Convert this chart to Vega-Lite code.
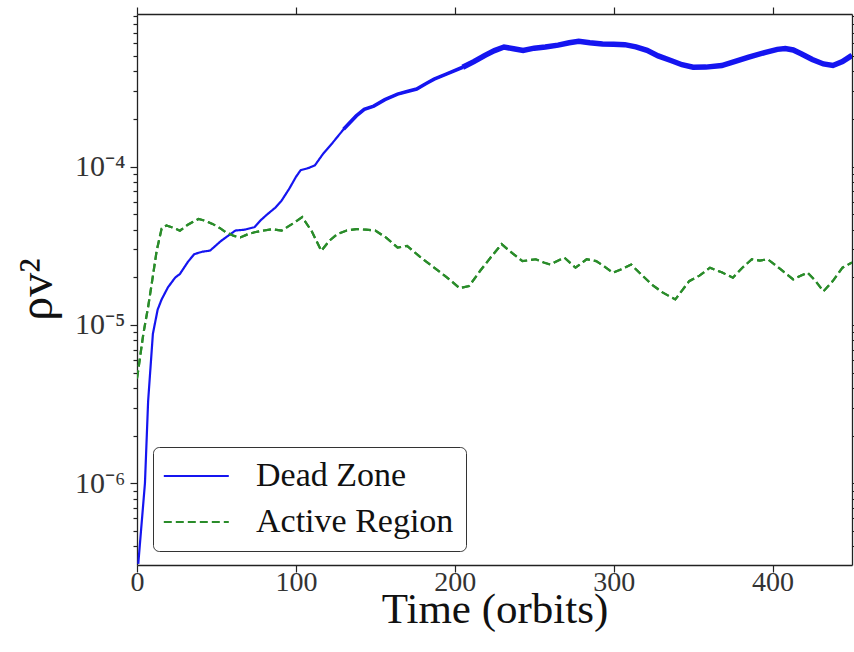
{
  "$schema": "https://vega.github.io/schema/vega-lite/v6.json",
  "width": 715,
  "height": 551,
  "autosize": {"type": "none"},
  "padding": {"left": 137, "top": 14, "right": 2, "bottom": 87},
  "background": "white",
  "config": {
    "view": {"stroke": null},
    "axis": {"grid": false, "domainColor": "#222", "domainWidth": 1.3, "tickColor": "#222", "tickWidth": 1.2, "labelFont": "Liberation Serif", "titleFont": "Liberation Serif", "labelColor": "#333", "titleColor": "#111", "titleFontWeight": "normal"}
  },
  "data": {"values": [
    {"series": "Dead Zone", "t": 0.8, "v": 3.1e-7},
    {"series": "Dead Zone", "t": 5, "v": 1.0e-6},
    {"series": "Dead Zone", "t": 7, "v": 3.3e-6},
    {"series": "Dead Zone", "t": 10, "v": 8.8e-6},
    {"series": "Dead Zone", "t": 13, "v": 1.25e-5},
    {"series": "Dead Zone", "t": 15.5, "v": 1.45e-5},
    {"series": "Dead Zone", "t": 19.5, "v": 1.73e-5},
    {"series": "Dead Zone", "t": 24, "v": 1.99e-5},
    {"series": "Dead Zone", "t": 27, "v": 2.1e-5},
    {"series": "Dead Zone", "t": 32, "v": 2.5e-5},
    {"series": "Dead Zone", "t": 36, "v": 2.8e-5},
    {"series": "Dead Zone", "t": 41, "v": 2.9e-5},
    {"series": "Dead Zone", "t": 46, "v": 2.95e-5},
    {"series": "Dead Zone", "t": 50, "v": 3.2e-5},
    {"series": "Dead Zone", "t": 53, "v": 3.4e-5},
    {"series": "Dead Zone", "t": 58, "v": 3.7e-5},
    {"series": "Dead Zone", "t": 62, "v": 3.95e-5},
    {"series": "Dead Zone", "t": 68, "v": 4.0e-5},
    {"series": "Dead Zone", "t": 74, "v": 4.15e-5},
    {"series": "Dead Zone", "t": 78, "v": 4.6e-5},
    {"series": "Dead Zone", "t": 82, "v": 5.0e-5},
    {"series": "Dead Zone", "t": 87, "v": 5.5e-5},
    {"series": "Dead Zone", "t": 91, "v": 6.1e-5},
    {"series": "Dead Zone", "t": 96, "v": 7.3e-5},
    {"series": "Dead Zone", "t": 100, "v": 8.6e-5},
    {"series": "Dead Zone", "t": 103, "v": 9.5e-5},
    {"series": "Dead Zone", "t": 108, "v": 9.8e-5},
    {"series": "Dead Zone", "t": 112, "v": 1.02e-4},
    {"series": "Dead Zone", "t": 117, "v": 1.2e-4},
    {"series": "Dead Zone", "t": 123, "v": 1.41e-4},
    {"series": "Dead Zone", "t": 130, "v": 1.72e-4},
    {"series": "Dead Zone", "t": 138, "v": 2.09e-4},
    {"series": "Dead Zone", "t": 143, "v": 2.3e-4},
    {"series": "Dead Zone", "t": 149, "v": 2.41e-4},
    {"series": "Dead Zone", "t": 156, "v": 2.65e-4},
    {"series": "Dead Zone", "t": 164, "v": 2.87e-4},
    {"series": "Dead Zone", "t": 170, "v": 2.98e-4},
    {"series": "Dead Zone", "t": 176, "v": 3.09e-4},
    {"series": "Dead Zone", "t": 182, "v": 3.35e-4},
    {"series": "Dead Zone", "t": 187, "v": 3.57e-4},
    {"series": "Dead Zone", "t": 195, "v": 3.85e-4},
    {"series": "Dead Zone", "t": 205, "v": 4.24e-4},
    {"series": "Dead Zone", "t": 212, "v": 4.6e-4},
    {"series": "Dead Zone", "t": 219, "v": 5.04e-4},
    {"series": "Dead Zone", "t": 225, "v": 5.4e-4},
    {"series": "Dead Zone", "t": 231, "v": 5.69e-4},
    {"series": "Dead Zone", "t": 237, "v": 5.55e-4},
    {"series": "Dead Zone", "t": 243, "v": 5.42e-4},
    {"series": "Dead Zone", "t": 250, "v": 5.6e-4},
    {"series": "Dead Zone", "t": 257, "v": 5.69e-4},
    {"series": "Dead Zone", "t": 265, "v": 5.85e-4},
    {"series": "Dead Zone", "t": 272, "v": 6.05e-4},
    {"series": "Dead Zone", "t": 278, "v": 6.18e-4},
    {"series": "Dead Zone", "t": 285, "v": 6.05e-4},
    {"series": "Dead Zone", "t": 293, "v": 5.95e-4},
    {"series": "Dead Zone", "t": 300, "v": 5.92e-4},
    {"series": "Dead Zone", "t": 307, "v": 5.89e-4},
    {"series": "Dead Zone", "t": 314, "v": 5.7e-4},
    {"series": "Dead Zone", "t": 321, "v": 5.42e-4},
    {"series": "Dead Zone", "t": 328, "v": 5.0e-4},
    {"series": "Dead Zone", "t": 336, "v": 4.68e-4},
    {"series": "Dead Zone", "t": 343, "v": 4.4e-4},
    {"series": "Dead Zone", "t": 350, "v": 4.24e-4},
    {"series": "Dead Zone", "t": 358, "v": 4.25e-4},
    {"series": "Dead Zone", "t": 368, "v": 4.35e-4},
    {"series": "Dead Zone", "t": 376, "v": 4.6e-4},
    {"series": "Dead Zone", "t": 385, "v": 4.91e-4},
    {"series": "Dead Zone", "t": 395, "v": 5.25e-4},
    {"series": "Dead Zone", "t": 403, "v": 5.5e-4},
    {"series": "Dead Zone", "t": 408, "v": 5.56e-4},
    {"series": "Dead Zone", "t": 413, "v": 5.45e-4},
    {"series": "Dead Zone", "t": 418, "v": 5.16e-4},
    {"series": "Dead Zone", "t": 425, "v": 4.75e-4},
    {"series": "Dead Zone", "t": 432, "v": 4.45e-4},
    {"series": "Dead Zone", "t": 438, "v": 4.35e-4},
    {"series": "Dead Zone", "t": 444, "v": 4.6e-4},
    {"series": "Dead Zone", "t": 450, "v": 5.04e-4},
    {"series": "Active Region", "t": 0, "v": 4.6e-6},
    {"series": "Active Region", "t": 0.8, "v": 5.2e-6},
    {"series": "Active Region", "t": 4, "v": 8.8e-6},
    {"series": "Active Region", "t": 7, "v": 1.3e-5},
    {"series": "Active Region", "t": 9.3, "v": 1.83e-5},
    {"series": "Active Region", "t": 12.4, "v": 2.95e-5},
    {"series": "Active Region", "t": 15.5, "v": 4.06e-5},
    {"series": "Active Region", "t": 18.5, "v": 4.25e-5},
    {"series": "Active Region", "t": 23, "v": 4.1e-5},
    {"series": "Active Region", "t": 27, "v": 3.94e-5},
    {"series": "Active Region", "t": 32, "v": 4.3e-5},
    {"series": "Active Region", "t": 38.7, "v": 4.67e-5},
    {"series": "Active Region", "t": 43, "v": 4.55e-5},
    {"series": "Active Region", "t": 47.5, "v": 4.35e-5},
    {"series": "Active Region", "t": 52, "v": 4.1e-5},
    {"series": "Active Region", "t": 56, "v": 3.85e-5},
    {"series": "Active Region", "t": 61, "v": 3.65e-5},
    {"series": "Active Region", "t": 65, "v": 3.57e-5},
    {"series": "Active Region", "t": 70, "v": 3.75e-5},
    {"series": "Active Region", "t": 74, "v": 3.85e-5},
    {"series": "Active Region", "t": 80, "v": 3.95e-5},
    {"series": "Active Region", "t": 85, "v": 4.03e-5},
    {"series": "Active Region", "t": 91, "v": 3.94e-5},
    {"series": "Active Region", "t": 97, "v": 4.3e-5},
    {"series": "Active Region", "t": 104, "v": 4.8e-5},
    {"series": "Active Region", "t": 110, "v": 3.9e-5},
    {"series": "Active Region", "t": 116, "v": 2.94e-5},
    {"series": "Active Region", "t": 121, "v": 3.4e-5},
    {"series": "Active Region", "t": 126, "v": 3.75e-5},
    {"series": "Active Region", "t": 132, "v": 3.95e-5},
    {"series": "Active Region", "t": 138, "v": 4.03e-5},
    {"series": "Active Region", "t": 144, "v": 4.0e-5},
    {"series": "Active Region", "t": 150, "v": 3.94e-5},
    {"series": "Active Region", "t": 157, "v": 3.55e-5},
    {"series": "Active Region", "t": 164, "v": 3.08e-5},
    {"series": "Active Region", "t": 170, "v": 3.16e-5},
    {"series": "Active Region", "t": 178, "v": 2.7e-5},
    {"series": "Active Region", "t": 187, "v": 2.3e-5},
    {"series": "Active Region", "t": 195, "v": 2.0e-5},
    {"series": "Active Region", "t": 203, "v": 1.71e-5},
    {"series": "Active Region", "t": 209, "v": 1.76e-5},
    {"series": "Active Region", "t": 216, "v": 2.2e-5},
    {"series": "Active Region", "t": 223, "v": 2.7e-5},
    {"series": "Active Region", "t": 229.5, "v": 3.24e-5},
    {"series": "Active Region", "t": 236, "v": 2.85e-5},
    {"series": "Active Region", "t": 242.6, "v": 2.53e-5},
    {"series": "Active Region", "t": 251, "v": 2.6e-5},
    {"series": "Active Region", "t": 256, "v": 2.48e-5},
    {"series": "Active Region", "t": 260, "v": 2.41e-5},
    {"series": "Active Region", "t": 269, "v": 2.66e-5},
    {"series": "Active Region", "t": 276, "v": 2.3e-5},
    {"series": "Active Region", "t": 283, "v": 2.6e-5},
    {"series": "Active Region", "t": 289, "v": 2.53e-5},
    {"series": "Active Region", "t": 294, "v": 2.35e-5},
    {"series": "Active Region", "t": 299.5, "v": 2.14e-5},
    {"series": "Active Region", "t": 305, "v": 2.25e-5},
    {"series": "Active Region", "t": 311, "v": 2.41e-5},
    {"series": "Active Region", "t": 317, "v": 2.1e-5},
    {"series": "Active Region", "t": 324, "v": 1.8e-5},
    {"series": "Active Region", "t": 331, "v": 1.6e-5},
    {"series": "Active Region", "t": 338.8, "v": 1.45e-5},
    {"series": "Active Region", "t": 343, "v": 1.65e-5},
    {"series": "Active Region", "t": 347.5, "v": 1.89e-5},
    {"series": "Active Region", "t": 354, "v": 2.05e-5},
    {"series": "Active Region", "t": 360.6, "v": 2.3e-5},
    {"series": "Active Region", "t": 368, "v": 2.15e-5},
    {"series": "Active Region", "t": 375, "v": 1.99e-5},
    {"series": "Active Region", "t": 381, "v": 2.3e-5},
    {"series": "Active Region", "t": 387, "v": 2.6e-5},
    {"series": "Active Region", "t": 392, "v": 2.55e-5},
    {"series": "Active Region", "t": 397, "v": 2.6e-5},
    {"series": "Active Region", "t": 405, "v": 2.25e-5},
    {"series": "Active Region", "t": 413, "v": 1.94e-5},
    {"series": "Active Region", "t": 418, "v": 2.05e-5},
    {"series": "Active Region", "t": 422, "v": 2.14e-5},
    {"series": "Active Region", "t": 427, "v": 1.9e-5},
    {"series": "Active Region", "t": 432, "v": 1.63e-5},
    {"series": "Active Region", "t": 438, "v": 1.9e-5},
    {"series": "Active Region", "t": 444, "v": 2.3e-5},
    {"series": "Active Region", "t": 450, "v": 2.48e-5}
  ]},
  "resolve": {"axis": {"x": "independent", "y": "independent"}},
  "layer": [
    {
      "mark": {"type": "line", "clip": true, "strokeWidth": 2.2},
      "encoding": {
        "x": {"field": "t", "type": "quantitative", "scale": {"domain": [0, 450], "nice": false, "zero": false},
          "axis": {"orient": "bottom", "values": [0, 100, 200, 300, 400], "tickSize": 7, "labelFontSize": 28, "labelPadding": -4, "labelFlush": false, "title": "Time (orbits)", "titleFontSize": 43, "titleY": 57, "titleBaseline": "alphabetic"}},
        "y": {"field": "v", "type": "quantitative", "scale": {"type": "log", "domain": [3.05e-7, 9.2e-4], "nice": false},
          "axis": {"orient": "left",
            "values": [4e-7, 5e-7, 6e-7, 7e-7, 8e-7, 9e-7, 1e-6, 2e-6, 3e-6, 4e-6, 5e-6, 6e-6, 7e-6, 8e-6, 9e-6, 1e-5, 2e-5, 3e-5, 4e-5, 5e-5, 6e-5, 7e-5, 8e-5, 9e-5, 1e-4, 2e-4, 3e-4, 4e-4, 5e-4, 6e-4, 7e-4, 8e-4, 9e-4],
            "tickSize": {"condition": {"test": "abs(log(datum.value)/LN10 - round(log(datum.value)/LN10)) < 0.000001", "value": 7}, "value": 4},
            "labelExpr": "abs(datum.value/1e-4 - 1) < 0.000001 ? '10⁻⁴' : abs(datum.value/1e-5 - 1) < 0.000001 ? '10⁻⁵' : abs(datum.value/1e-6 - 1) < 0.000001 ? '10⁻⁶' : ''",
            "labelFontSize": 30, "labelPadding": 5, "labelOverlap": false, "labelFlush": false,
            "title": "ρv²", "titleFontSize": 48, "titleX": -100, "titleY": 275, "titleAngle": 270, "titleAlign": "center", "titleBaseline": "middle"}},
        "color": {"field": "series", "type": "nominal", "scale": {"domain": ["Dead Zone", "Active Region"], "range": ["#1515f0", "#2a8c2a"]},
          "legend": {"orient": "none", "legendX": 16, "legendY": 433, "title": null, "symbolType": "M-1.4,0H3.6", "symbolSize": 676, "symbolStrokeWidth": 2.2, "labelFont": "Liberation Serif", "labelFontSize": 34, "labelColor": "#111", "labelOffset": 57, "labelLimit": 400, "padding": 12, "rowPadding": 12, "strokeColor": "#333", "fillColor": "white", "cornerRadius": 6}},
        "strokeDash": {"field": "series", "type": "nominal", "scale": {"domain": ["Dead Zone", "Active Region"], "range": [[1, 0], [8, 4]]}, "legend": null}
      }
    },
    {
      "transform": [{"filter": "datum.series == 'Dead Zone' && datum.t >= 130 && datum.t <= 205"}],
      "mark": {"type": "line", "clip": true, "strokeWidth": 3.6, "color": "#1515f0"},
      "encoding": {
        "x": {"field": "t", "type": "quantitative", "axis": null},
        "y": {"field": "v", "type": "quantitative", "axis": null}
      }
    },
    {
      "transform": [{"filter": "datum.series == 'Dead Zone' && datum.t >= 205"}],
      "mark": {"type": "line", "clip": true, "strokeWidth": 5.5, "color": "#1515f0"},
      "encoding": {
        "x": {"field": "t", "type": "quantitative", "axis": null},
        "y": {"field": "v", "type": "quantitative", "axis": null}
      }
    },
    {
      "transform": [{"filter": "datum.series == 'Active Region'"}],
      "mark": {"type": "line", "clip": true, "strokeWidth": 2.2, "color": "#2a8c2a", "strokeDash": [8, 4]},
      "encoding": {
        "x": {"field": "t", "type": "quantitative", "axis": null},
        "y": {"field": "v", "type": "quantitative", "axis": null}
      }
    },
    {
      "mark": {"type": "point", "opacity": 0},
      "encoding": {
        "x": {"field": "t", "type": "quantitative",
          "axis": {"orient": "top", "values": [0, 100, 200, 300, 400], "tickSize": 7, "labels": false, "title": null}},
        "y": {"field": "v", "type": "quantitative",
          "axis": {"orient": "right",
            "values": [4e-7, 5e-7, 6e-7, 7e-7, 8e-7, 9e-7, 1e-6, 2e-6, 3e-6, 4e-6, 5e-6, 6e-6, 7e-6, 8e-6, 9e-6, 1e-5, 2e-5, 3e-5, 4e-5, 5e-5, 6e-5, 7e-5, 8e-5, 9e-5, 1e-4, 2e-4, 3e-4, 4e-4, 5e-4, 6e-4, 7e-4, 8e-4, 9e-4],
            "tickSize": {"condition": {"test": "abs(log(datum.value)/LN10 - round(log(datum.value)/LN10)) < 0.000001", "value": 7}, "value": 4},
            "labels": false, "title": null}}
      }
    }
  ]
}
